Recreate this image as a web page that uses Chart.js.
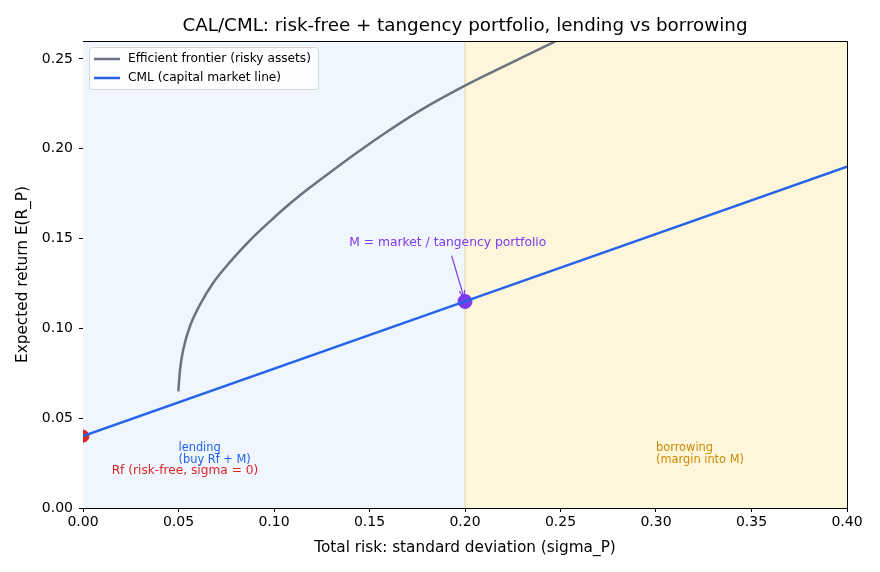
<!DOCTYPE html>
<html>
<head>
<meta charset="utf-8">
<script src="https://cdn.jsdelivr.net/npm/chart.js@4"></script>
<style>
html,body{margin:0;padding:0;background:#fff;}
#wrap{width:880px;height:572px;position:relative;}
</style>
</head>
<body>
<div id="wrap"><canvas id="c" width="880" height="572"></canvas></div>
<script>
// ---- data ----
const frontierSigma  = [0.0499, 0.0508, 0.0525, 0.0560, 0.0613, 0.0682, 0.0770, 0.0874, 0.0979, 0.1084, 0.1188, 0.1293, 0.1450, 0.1590, 0.1764, 0.2000, 0.2201, 0.2462, 0.2550];
const frontierReturn = [0.0649, 0.0770, 0.0882, 0.1012, 0.1133, 0.1254, 0.1370, 0.1490, 0.1596, 0.1695, 0.1784, 0.1868, 0.1990, 0.2093, 0.2212, 0.2351, 0.2457, 0.2593, 0.2640];
const cmlSigma  = [0.0, 0.2, 0.4];
const cmlReturn = [0.04, 0.115, 0.19];
const rf = {sigma: 0.0, ret: 0.04};
const market = {sigma: 0.2, ret: 0.115};
const xTicks = [0.00, 0.05, 0.10, 0.15, 0.20, 0.25, 0.30, 0.35, 0.40];
const yTicks = [0.00, 0.05, 0.10, 0.15, 0.20, 0.25];
const seriesLabels = ['Efficient frontier (risky assets)', 'CML (capital market line)'];
const titleText = 'CAL/CML: risk-free + tangency portfolio, lending vs borrowing';

const FONT = "'DejaVu Sans', sans-serif";
const C_FRONT = '#6b7280', C_CML = '#2563eb', C_RF = '#dc2626', C_M = '#7c3aed', C_BOR = '#ca8a04';

const toPts = (xs, ys) => xs.map((x, i) => ({x: x, y: ys[i]}));

const deco = {
  id: 'deco',
  beforeDatasetsDraw(chart) {
    const {ctx, chartArea: a, scales: {x, y}} = chart;
    ctx.save();
    const xm = x.getPixelForValue(market.sigma);
    ctx.fillStyle = '#f0f6fe';
    ctx.fillRect(a.left, a.top, xm - a.left, a.bottom - a.top);
    ctx.fillStyle = '#fef6da';
    ctx.fillRect(xm, a.top, a.right - xm, a.bottom - a.top);
    ctx.strokeStyle = 'rgba(225,210,160,0.6)';
    ctx.lineWidth = 1.5;
    ctx.beginPath(); ctx.moveTo(xm, a.top); ctx.lineTo(xm, a.bottom); ctx.stroke();
    ctx.restore();
  },
  afterDatasetsDraw(chart) {
    const {ctx, chartArea: a, scales: {x, y}} = chart;
    ctx.save();
    ctx.textBaseline = 'middle';
    ctx.font = '12.3px ' + FONT;
    ctx.fillStyle = C_M; ctx.textAlign = 'center';
    ctx.fillText('M = market / tangency portfolio', x.getPixelForValue(0.191), y.getPixelForValue(0.1475));
    const x0 = x.getPixelForValue(0.193), y0 = y.getPixelForValue(0.1405);
    const x1 = x.getPixelForValue(0.1995), y1 = y.getPixelForValue(0.117);
    ctx.strokeStyle = C_M; ctx.lineWidth = 1.2;
    ctx.beginPath(); ctx.moveTo(x0, y0); ctx.lineTo(x1, y1); ctx.stroke();
    const ang = Math.atan2(y1 - y0, x1 - x0);
    ctx.beginPath();
    ctx.moveTo(x1 - 8 * Math.cos(ang - 0.35), y1 - 8 * Math.sin(ang - 0.35));
    ctx.lineTo(x1, y1);
    ctx.lineTo(x1 - 8 * Math.cos(ang + 0.35), y1 - 8 * Math.sin(ang + 0.35));
    ctx.stroke();

    ctx.textAlign = 'left';
    ctx.font = '12.2px ' + FONT;
    ctx.fillStyle = C_RF;
    ctx.fillText('Rf (risk-free, sigma = 0)', x.getPixelForValue(0.015), y.getPixelForValue(0.0205));
    ctx.font = '11.4px ' + FONT;
    ctx.fillStyle = C_CML;
    ctx.fillText('lending', x.getPixelForValue(0.05), y.getPixelForValue(0.0335));
    ctx.fillText('(buy Rf + M)', x.getPixelForValue(0.05), y.getPixelForValue(0.0268));
    ctx.fillStyle = C_BOR;
    ctx.fillText('borrowing', x.getPixelForValue(0.30), y.getPixelForValue(0.0335));
    ctx.fillText('(margin into M)', x.getPixelForValue(0.30), y.getPixelForValue(0.0268));

    // legend
    const lx = a.left + 6, ly = a.top + 6, lw = 229, lh = 42;
    ctx.fillStyle = 'rgba(255,255,255,0.85)';
    ctx.strokeStyle = '#d4d4d4'; ctx.lineWidth = 1;
    ctx.beginPath();
    if (ctx.roundRect) ctx.roundRect(lx + 0.5, ly + 0.5, lw, lh, 3); else ctx.rect(lx + 0.5, ly + 0.5, lw, lh);
    ctx.fill(); ctx.stroke();
    const cols = [C_FRONT, C_CML];
    ctx.font = '12.2px ' + FONT;
    seriesLabels.forEach((t, i) => {
      const yy = ly + 12 + i * 19;
      ctx.strokeStyle = cols[i]; ctx.lineWidth = 2.5;
      ctx.beginPath(); ctx.moveTo(lx + 5, yy); ctx.lineTo(lx + 31, yy); ctx.stroke();
      ctx.fillStyle = '#000'; ctx.textAlign = 'left';
      ctx.fillText(t, lx + 39, yy);
    });

    ctx.strokeStyle = '#000'; ctx.lineWidth = 1;
    ctx.beginPath();
    ctx.moveTo(a.left, a.top + 0.5); ctx.lineTo(a.right + 0.5, a.top + 0.5); ctx.lineTo(a.right + 0.5, a.bottom);
    ctx.stroke();

    ctx.fillStyle = '#000'; ctx.textAlign = 'center';
    ctx.font = '18.3px ' + FONT;
    ctx.fillText(titleText, (a.left + a.right) / 2, 26);
    ctx.restore();
  }
};

new Chart(document.getElementById('c'), {
  type: 'scatter',
  data: {
    datasets: [
      {label: seriesLabels[0], data: toPts(frontierSigma, frontierReturn), showLine: true, borderColor: C_FRONT, borderWidth: 2.5, pointRadius: 0, cubicInterpolationMode: 'monotone', clip: 0},
      {label: seriesLabels[1], data: toPts(cmlSigma, cmlReturn), showLine: true, borderColor: C_CML, borderWidth: 2.5, pointRadius: 0, clip: 0},
      {label: 'Rf', data: [{x: rf.sigma, y: rf.ret}], pointRadius: 6, pointBackgroundColor: C_RF, pointBorderColor: C_RF, clip: 0},
      {label: 'M', data: [{x: market.sigma, y: market.ret}], pointRadius: 7, pointBackgroundColor: C_M, pointBorderColor: C_M, clip: 0}
    ]
  },
  options: {
    responsive: false,
    animation: false,
    devicePixelRatio: 1,
    layout: {padding: {left: 0, right: 33, top: 41, bottom: 0}},
    plugins: {legend: {display: false}, tooltip: {enabled: false}, title: {display: false}},
    scales: {
      x: {
        type: 'linear', min: 0, max: 0.4,
        afterBuildTicks: s => { s.ticks = xTicks.map(v => ({value: v})); },
        afterFit: s => { s.height = 64; },
        ticks: {color: '#000', font: {family: FONT, size: 14}, padding: 2, maxRotation: 0, callback: v => v.toFixed(2)},
        grid: {display: true, drawOnChartArea: false, drawTicks: true, tickLength: 4, color: '#000'},
        border: {display: true, color: '#000', width: 1},
        title: {display: true, text: 'Total risk: standard deviation (sigma_P)', color: '#000', font: {family: FONT, size: 15.3}, padding: {top: 4, bottom: 15}}
      },
      y: {
        type: 'linear', min: 0, max: 0.26,
        afterBuildTicks: s => { s.ticks = yTicks.map(v => ({value: v})); },
        afterFit: s => { s.width = 83; },
        ticks: {color: '#000', font: {family: FONT, size: 14}, padding: 6, callback: v => v.toFixed(2)},
        grid: {display: true, drawOnChartArea: false, drawTicks: true, tickLength: 4, color: '#000'},
        border: {display: true, color: '#000', width: 1},
        title: {display: true, text: 'Expected return E(R_P)', color: '#000', font: {family: FONT, size: 15.3}, padding: {top: 14, bottom: 0}}
      }
    }
  },
  plugins: [deco]
});
</script>
</body>
</html>
